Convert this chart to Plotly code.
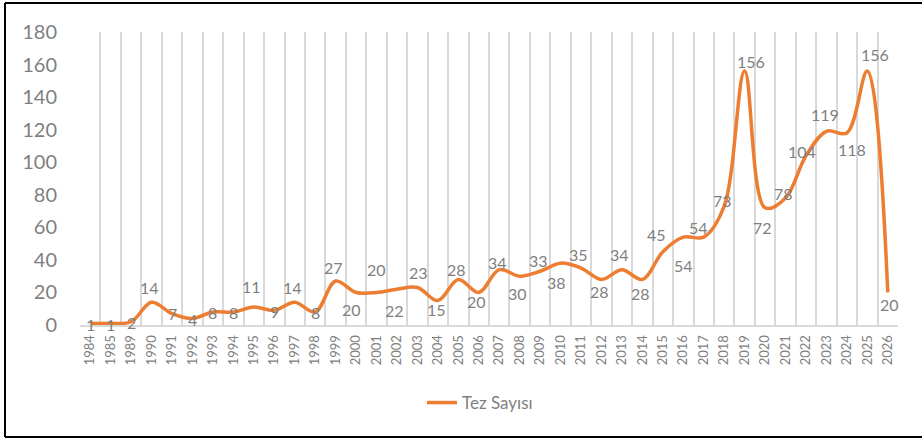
import plotly.graph_objects as go

years = ["1984", "1985", "1989", "1990", "1991", "1992", "1993", "1994", "1995", "1996",
         "1997", "1998", "1999", "2000", "2001", "2002", "2003", "2004", "2005", "2006",
         "2007", "2008", "2009", "2010", "2011", "2012", "2013", "2014", "2015", "2016",
         "2017", "2018", "2019", "2020", "2021", "2022", "2023", "2024", "2025", "2026"]
tez_sayisi = [1, 1, 2, 14, 7, 4, 8, 8, 11, 9,
              14, 8, 27, 20, 20, 22, 23, 15, 28, 20,
              34, 30, 33, 38, 35, 28, 34, 28, 45, 54,
              54, 73, 156, 72, 78, 104, 119, 118, 156, 20]

# data-label offsets (style only, in px: +y is up)
label_dx = [0, 0, 0, -2, 0, 0, 0, 0, -2, 0,
            -2, 0, -2, -5, 0, -2, 1, -1, -2, -2,
            -2, -2, -2, -4, -3, -2, -2, -2, -6, 0,
            -5, -2, 6, -3, -2, -4, -1, 5, 8, 2]
label_dy = [-1.5, -1.5, -1, 15, 0, -1, -1, -1, 21, -1,
            15, -1, 14, -17.5, 23, -21, 15, -9, 10, -9,
            7, -17, 11, -19, 14, -12, 15.5, -14, 17, -28,
            10, 6, 10, -20, 5, 4, 17, -17, 17, -12.5]

FONT = "Lato, 'Open Sans', sans-serif"
GRAY = "#7f7f7f"
ORANGE = "#ED7D31"

fig = go.Figure()
fig.add_trace(go.Scatter(
    x=years, y=tez_sayisi, mode="lines", name="Tez Sayısı",
    line=dict(color=ORANGE, width=3.5, shape="spline", smoothing=1.0),
    hoverinfo="x+y",
))

# annotations on a category axis are placed by category index
for idx, (v, dx, dy) in enumerate(zip(tez_sayisi, label_dx, label_dy)):
    fig.add_annotation(x=idx, y=v, xref="x", yref="y", text=str(v), showarrow=False,
                       xanchor="center", yanchor="middle", xshift=dx, yshift=dy,
                       font=dict(family=FONT, size=16, color=GRAY))

# plot area geometry (px): left 80, right 898, top 32, bottom 325
L, R, T, B = 80, 898, 32, 325
W, H = 922, 440
def px(xp):
    return (xp - L) / (R - L)
def py(yp):
    return (B - yp) / (B - T)

fig.update_layout(
    width=W, height=H,
    margin=dict(l=L, r=W - R, t=T, b=H - B),
    paper_bgcolor="white", plot_bgcolor="white",
    font=dict(family=FONT, color=GRAY),
    showlegend=True,
    legend=dict(orientation="h", x=px(422), xanchor="left", y=py(403), yanchor="middle",
                font=dict(family=FONT, size=17, color=GRAY)),
    xaxis=dict(type="category", tickson="boundaries", range=[-0.5, len(years) - 0.5],
               showgrid=True, gridcolor="#d9d9d9", gridwidth=2,
               showline=True, linecolor="#d9d9d9", linewidth=2,
               ticks="", tickangle=-90, ticklabelstandoff=3,
               tickfont=dict(family=FONT, size=13, color=GRAY)),
    yaxis=dict(range=[0, 180], dtick=20, showgrid=False, zeroline=False,
               showline=False, ticks="", ticklabelstandoff=22,
               tickfont=dict(family=FONT, size=20, color=GRAY)),
    shapes=[
        dict(type="line", xref="paper", yref="paper", x0=px(5), x1=px(5), y0=py(3), y1=py(437),
             line=dict(color="black", width=2)),
        dict(type="line", xref="paper", yref="paper", x0=px(5), x1=px(930), y0=py(3), y1=py(3),
             line=dict(color="black", width=2)),
        dict(type="line", xref="paper", yref="paper", x0=px(5), x1=px(930), y0=py(437), y1=py(437),
             line=dict(color="black", width=2)),
    ],
)

fig.write_html("out.html", config={"displayModeBar": False},
               post_script="document.body.style.margin='0';document.body.style.overflow='hidden';")
